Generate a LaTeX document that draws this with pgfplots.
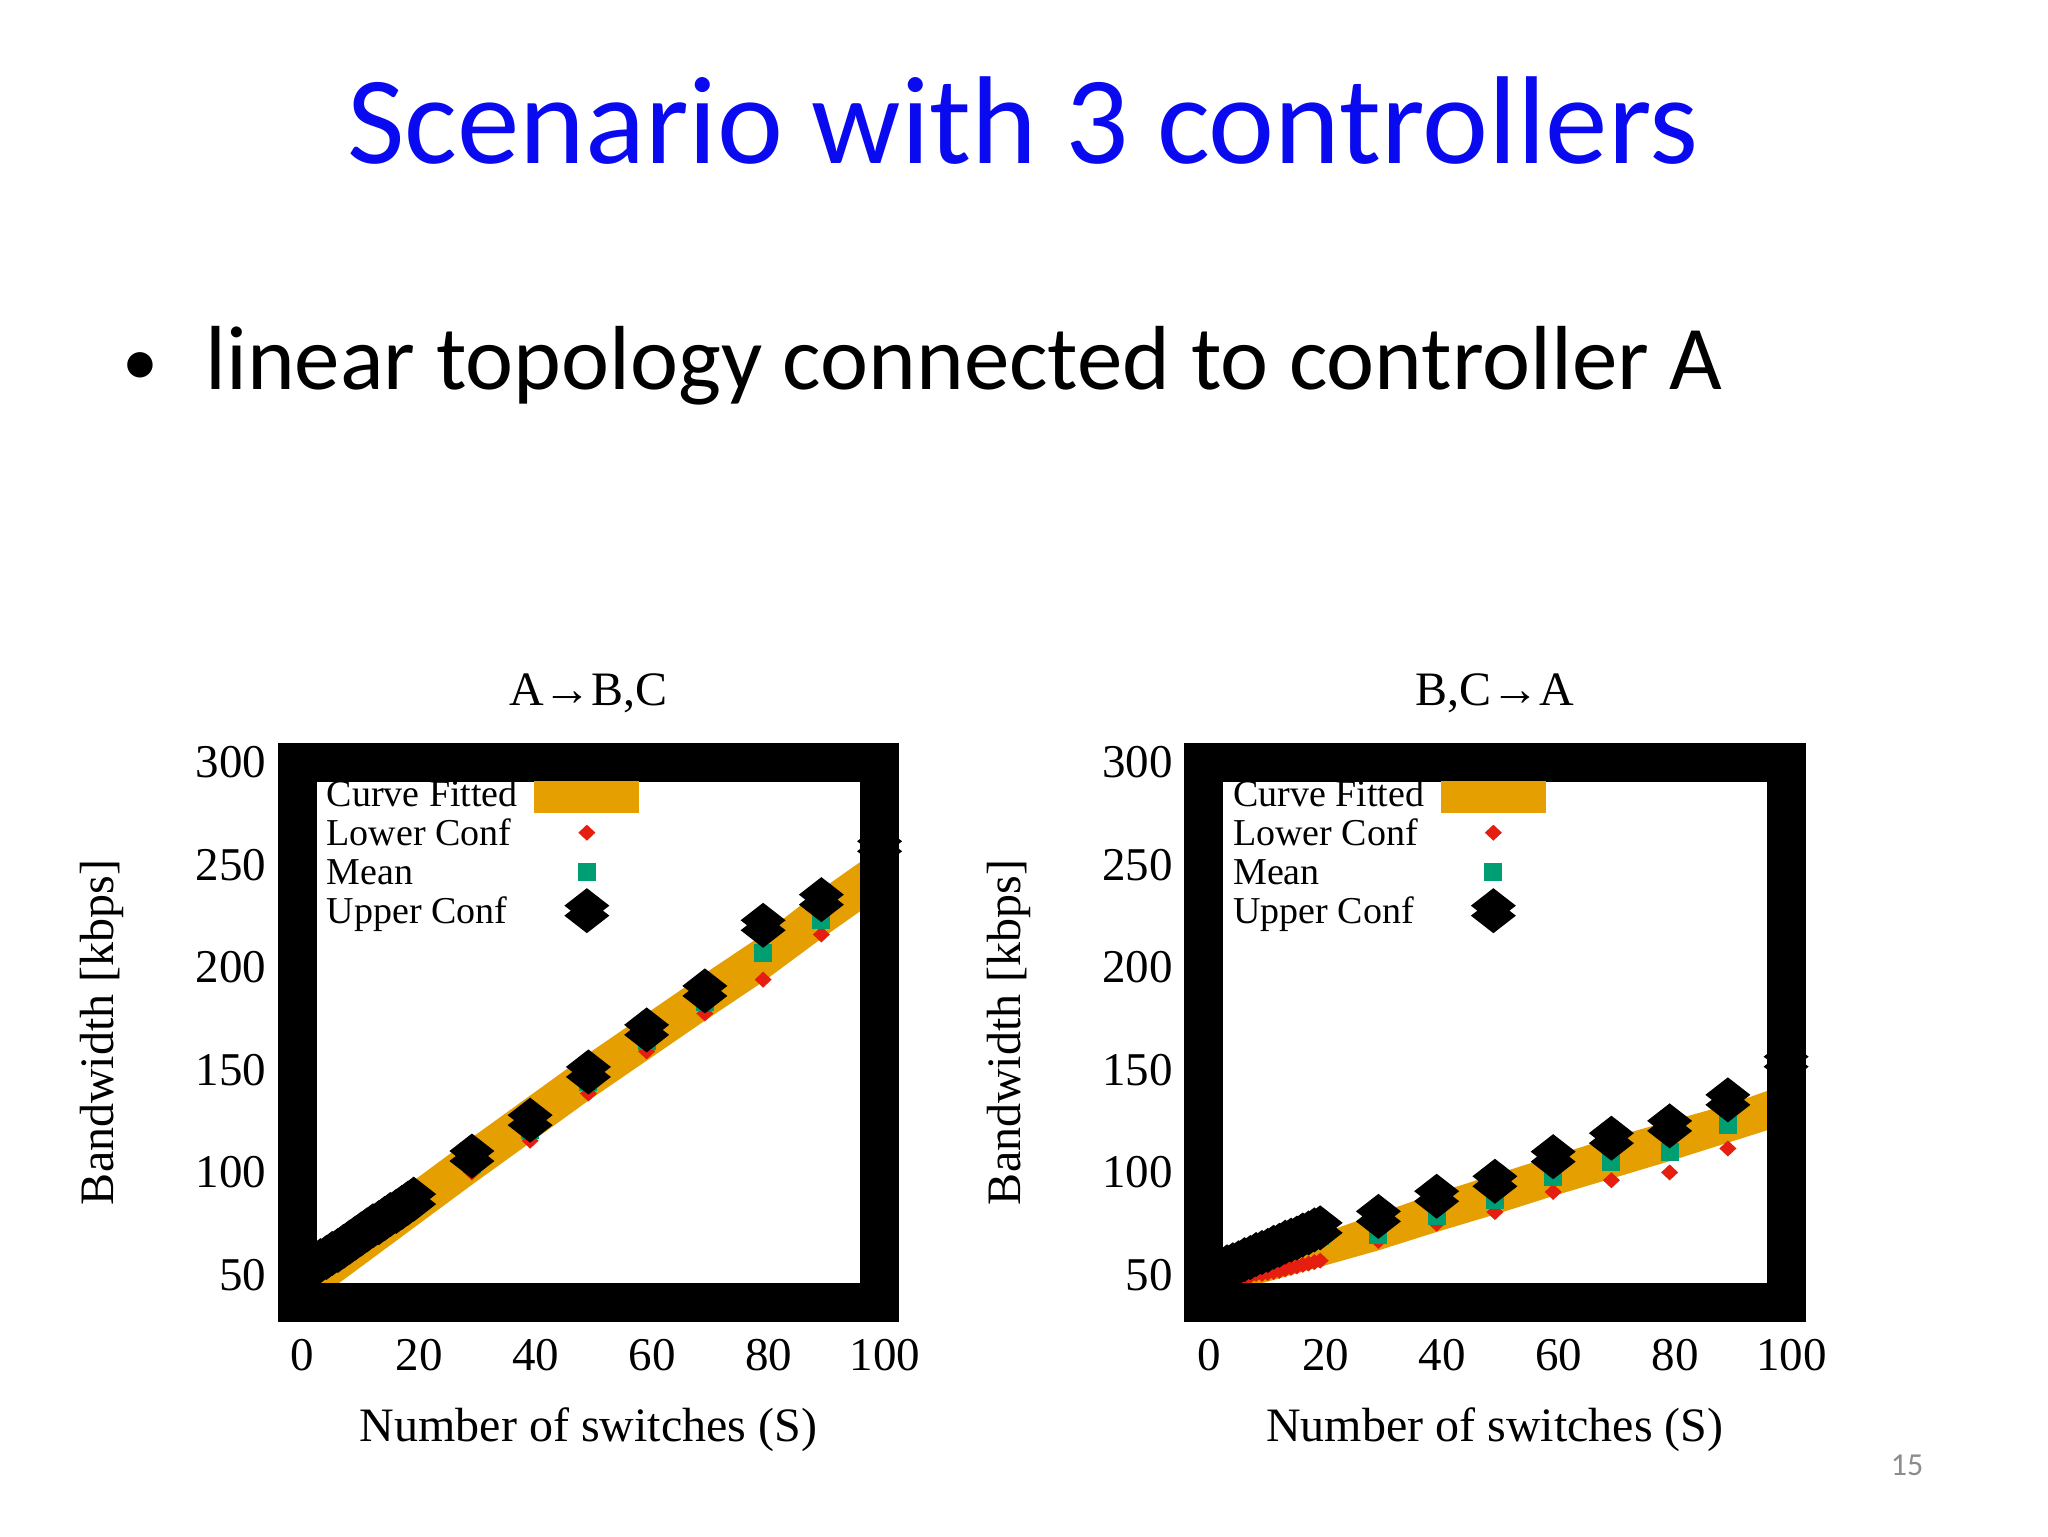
\documentclass[border=0pt]{standalone}
\usepackage{fontspec}
\setmainfont{Liberation Serif}
\newfontfamily\calibri{Carlito}
\usepackage{pgfplots}
\usepackage{pgfplotstable}
\pgfplotsset{compat=1.18}

\definecolor{fitorange}{RGB}{230,159,0}
\definecolor{lowred}{RGB}{229,30,16}
\definecolor{meangreen}{RGB}{0,158,115}
\definecolor{titleblue}{RGB}{10,10,240}
\definecolor{pagegray}{RGB}{140,140,140}

% gnuplot-like point types
\pgfdeclareplotmark{lowdia}{%
  \pgfpathmoveto{\pgfqpoint{0pt}{4pt}}%
  \pgfpathlineto{\pgfqpoint{4.25pt}{0pt}}%
  \pgfpathlineto{\pgfqpoint{0pt}{-4pt}}%
  \pgfpathlineto{\pgfqpoint{-4.25pt}{0pt}}%
  \pgfpathclose\pgfusepathqfill}
\pgfdeclareplotmark{meansq}{%
  \pgfpathrectangle{\pgfqpoint{-4.5pt}{-4.5pt}}{\pgfqpoint{9pt}{9pt}}%
  \pgfusepathqfill}
\pgfdeclareplotmark{updia}{%
  \pgfpathmoveto{\pgfqpoint{0pt}{11.25pt}}%
  \pgfpathlineto{\pgfqpoint{11.25pt}{2.5pt}}%
  \pgfpathlineto{\pgfqpoint{0pt}{-6.25pt}}%
  \pgfpathlineto{\pgfqpoint{-11.25pt}{2.5pt}}%
  \pgfpathclose
  \pgfpathmoveto{\pgfqpoint{0pt}{6.25pt}}%
  \pgfpathlineto{\pgfqpoint{11.25pt}{-2.5pt}}%
  \pgfpathlineto{\pgfqpoint{0pt}{-11.25pt}}%
  \pgfpathlineto{\pgfqpoint{-11.25pt}{-2.5pt}}%
  \pgfpathclose
  \pgfusepathqfill}

% x lower mean upper
\pgfplotstableread{
x lo mean up
1 50 50.5 51
2 51.5 52.3 53
3 53 54 55
4 55 56 57
5 56.5 57.5 58.5
6 58 59.2 60.5
7 59.5 60.8 62
8 61 62.5 64
9 62.5 64.2 66
10 64.5 66.2 68
11 66 68 70
12 68 70 72
13 69.5 71.8 74
14 71 73.2 75.5
15 72.5 75 77.5
16 74.5 77 79.5
17 75.5 78.2 81
18 77.5 80.2 83
19 79 82 85
20 81 84 87
30 100 104 108
40 115.5 120.5 125.5
50 138.5 144 149
60 159 164 169.5
70 177.5 183 188.5
80 194 207 220.5
90 216 223 233
100 245 252 259
}\abctab

\pgfplotstableread{
x lo mean up
1 41 46 50
2 42.5 47.5 51.5
3 43.5 48.5 52.5
4 45 50 54
5 46 51 55
6 47 52 56
7 48.5 53.5 57.5
8 49.5 54.5 58.5
9 50.5 56 60
10 50.5 57 61
11 51 58 62
12 51.5 59.5 63.5
13 52 60.5 64.5
14 52.8 62 66
15 53.5 63 67
16 54.2 64 68
17 55 65.5 69.5
18 55.6 66.5 70.5
19 56.3 68 72
20 57 69 73
30 66.6 69.5 78.6
40 75 79 88.4
50 80.7 86.4 95.7
60 90.5 97.8 107.7
70 96.2 105 116.7
80 100 110 122.7
90 111.7 123 135.4
100 125 139 154
}\bcatab

\pgfplotsset{
  slide/.style={
    scale only axis, width=291.2pt, height=270.15pt,
    xmin=0, xmax=100, ymin=36.6, ymax=300,
    xtick={0,20,...,100}, ytick={50,100,...,300},
    axis on top, clip=false, clip marker paths=true,
    axis line style={line width=19.5pt},
    tick style={draw=none},
    /pgf/number format/assume math mode=true,
    ticklabel style={font=\fontsize{23.5pt}{28pt}\selectfont},
    xticklabel style={anchor=north, inner sep=0pt, yshift=-18pt, xshift=2.75pt},
    yticklabel style={anchor=east, inner sep=0pt, xshift=-15.25pt},
    xlabel={Number of switches (S)},
    ylabel={Bandwidth [kbps]},
    label style={font=\fontsize{24pt}{28pt}\selectfont},
    xlabel style={at={(axis description cs:0.5,-0.2576)}, anchor=base},
    ylabel style={at={(axis description cs:-0.3352,0.5)}, anchor=center},
    title style={at={(axis description cs:0.5,1.105)}, anchor=center,
      font=\fontsize{24pt}{28pt}\selectfont},
    legend cell align=left, legend plot pos=right,
    legend style={at={(axis description cs:0.0507,0.9695)}, anchor=north west,
      draw=none, fill=none, inner sep=0pt, outer sep=0pt, row sep=0pt,
      column sep=8.3pt, font=\fontsize{19pt}{19.5pt}\selectfont,
      nodes={inner sep=0pt, text height=14pt, text depth=5.5pt}},
    legend image code/.code={\path[draw=none, fill=none] (0pt,0pt) rectangle (52.5pt,0pt);
      \path[overlay,##1,draw=none]
      plot coordinates {(26.25pt,2.25pt)};},
  },
  band/.style={fill=fitorange, draw=none,
    legend image code/.code={\path[draw=none, fill=none] (0pt,0pt) rectangle (52.5pt,0pt);
      \fill[overlay,fitorange] (0pt,-7.5pt) rectangle (52.5pt,8.5pt);}},
  lowc/.style={only marks, color=lowred, mark=lowdia},
  meanc/.style={only marks, color=meangreen, mark=meansq},
  upc/.style={only marks, color=black, mark=updia},
}

\begin{document}
\begin{tikzpicture}[x=0.5pt, y=0.5pt]
\path[use as bounding box, fill=white] (0,0) rectangle (2048,1536);

\node[anchor=base, inner sep=0pt, text=titleblue,
  font=\calibri\fontsize{62.5pt}{66pt}\selectfont] at (1023,1372.7) {Scenario with 3 controllers};
\node[anchor=base, inner sep=0pt,
  font=\calibri\fontsize{36pt}{40pt}\selectfont] at (140,1150) {•};
\node[anchor=base west, inner sep=0pt,
  font=\calibri\fontsize{45.5pt}{50pt}\selectfont] at (205,1146) {linear topology connected to controller A};
\node[inner sep=0pt, text=pagegray,
  font=\calibri\fontsize{16pt}{18pt}\selectfont] at (1907,71) {15};

\begin{axis}[slide, at={(148.6pt,116.75pt)}, anchor=south west, title={A→B,C}]
\addplot[band] coordinates {
  (0,31) (10,52) (20,73) (30,94) (40,114.5) (50,135) (60,154.5) (70,174) (80,193) (90,214) (100,234)
  (100,258) (90,238) (80,216) (70,197) (60,177.5) (50,158) (40,137.5) (30,117) (20,96) (10,75) (0,54)
} -- cycle;
\addlegendentry{Curve Fitted}
\addplot[lowc] table[x=x, y=lo] {\abctab};
\addlegendentry{Lower Conf}
\addplot[meanc] table[x=x, y=mean] {\abctab};
\addlegendentry{Mean}
\addplot[upc] table[x=x, y=up] {\abctab};
\addlegendentry{Upper Conf}
\end{axis}

\begin{axis}[slide, at={(601.85pt,116.75pt)}, anchor=south west, title={B,C→A}]
\addplot[band] coordinates {
  (0,38) (10,46) (20,54) (30,62) (40,71) (50,79.5) (60,88.5) (70,97) (80,105.5) (90,114.5) (100,123.5)
  (100,143) (90,133) (80,125) (70,117) (60,108) (50,99) (40,90) (30,80) (20,70) (10,60) (0,50)
} -- cycle;
\addlegendentry{Curve Fitted}
\addplot[lowc] table[x=x, y=lo] {\bcatab};
\addlegendentry{Lower Conf}
\addplot[meanc] table[x=x, y=mean] {\bcatab};
\addlegendentry{Mean}
\addplot[upc] table[x=x, y=up] {\bcatab};
\addlegendentry{Upper Conf}
\end{axis}
\end{tikzpicture}
\end{document}
